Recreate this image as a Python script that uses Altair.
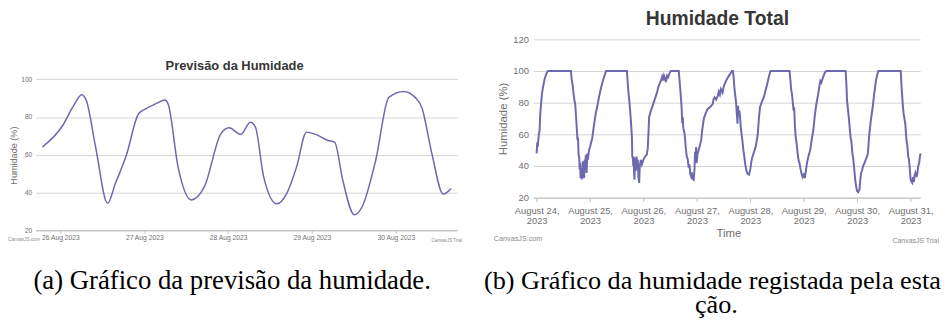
import altair as alt
import pandas as pd

LINE = "#6c69ae"
GRID = "#d4d4d4"
LABEL = "#6f6f6f"
TITLE = "#363636"
MARK = "#8a8a8a"
SANS = "Liberation Sans"
SERIF = "'Liberation Serif', 'DejaVu Serif', 'Times New Roman', serif"

# ---------- (a) forecast ----------
fc_day = [-0.216, 0.027, 0.145, 0.255, 0.31, 0.42, 0.562, 0.656, 0.786, 0.93,
          1.01, 1.147, 1.246, 1.285, 1.403, 1.56, 1.717, 1.913, 2.012, 2.149,
          2.267, 2.326, 2.424, 2.581, 2.70, 2.817, 2.935, 3.073, 3.19, 3.27,
          3.367, 3.505, 3.6, 3.76, 3.917, 4.094, 4.23, 4.31, 4.43, 4.565, 4.66]
fc_hum = [64.1, 75.5, 85.1, 91.8, 88.6, 64.0, 34.3, 44.9, 59.7, 81.6,
          84.2, 87.2, 89.0, 86.9, 53.6, 36.1, 43.1, 71.1, 74.3, 70.8,
          77.2, 74.6, 48.3, 34.0, 39.6, 53.6, 72.0, 70.2, 67.6, 66.7,
          46.6, 28.2, 32.6, 57.1, 90.4, 93.5, 90.4, 85.1, 60.6, 39.2, 42.2]
fc_ticks = [0, 1, 2, 3, 4]
fc_tick_labels = ["26 Aug 2023", "27 Aug 2023", "28 Aug 2023", "29 Aug 2023", "30 Aug 2023"]
fc_y_ticks = [20, 40, 60, 80, 100]

# ---------- (b) station ----------
st_day = [0, 0.012, 0.02, 0.043, 0.055, 0.068, 0.085, 0.099, 0.115, 0.136, 0.15, 0.167, 0.19, 0.21,
          0.642, 0.655, 0.673, 0.69, 0.705, 0.722, 0.74, 0.765, 0.775, 0.785, 0.796, 0.806, 0.815,
          0.822, 0.835, 0.845, 0.855, 0.865, 0.875, 0.889, 0.9, 0.91, 0.92, 0.935, 0.95, 0.96, 0.98,
          1.0, 1.02, 1.04, 1.07, 1.105, 1.137, 1.17, 1.21, 1.25, 1.29, 1.30,
          1.69, 1.70, 1.715, 1.722, 1.735, 1.75, 1.765, 1.784, 1.79, 1.80, 1.81, 1.815, 1.825, 1.832,
          1.84, 1.85, 1.86, 1.87, 1.88, 1.893, 1.905, 1.92, 1.93, 1.95, 1.97, 2.0, 2.03, 2.06, 2.08,
          2.095, 2.105, 2.13, 2.16, 2.2, 2.25, 2.28, 2.309, 2.33, 2.35, 2.37, 2.385, 2.40, 2.42, 2.44,
          2.46, 2.48, 2.494, 2.51,
          2.66, 2.675, 2.69, 2.70, 2.715, 2.725, 2.735, 2.745, 2.77, 2.79, 2.81, 2.83, 2.845, 2.86,
          2.875, 2.89, 2.905, 2.92, 2.94, 2.955, 2.965, 2.975, 2.985, 2.995, 3.01, 3.03, 3.05, 3.08,
          3.1, 3.13, 3.16, 3.2, 3.24, 3.296, 3.31, 3.33, 3.36, 3.389, 3.41, 3.43, 3.45, 3.48, 3.5,
          3.543, 3.58, 3.62, 3.655, 3.675,
          3.69, 3.70, 3.715, 3.73, 3.745, 3.76, 3.77, 3.78, 3.795, 3.81, 3.82, 3.85, 3.87, 3.895,
          3.91, 3.93, 3.95, 3.975, 4.0, 4.02, 4.04, 4.07, 4.1, 4.12, 4.14, 4.16, 4.18, 4.21, 4.25,
          4.28, 4.315, 4.345, 4.377,
          4.735, 4.75, 4.765, 4.78, 4.795, 4.81, 4.82, 4.835, 4.85, 4.87, 4.885, 4.9, 4.92, 4.94,
          4.96, 4.98, 5.0, 5.02, 5.04, 5.06, 5.086, 5.12, 5.148, 5.18, 5.21, 5.24, 5.27, 5.30, 5.31,
          5.33, 5.36, 5.395, 5.42,
          5.784, 5.8, 5.81, 5.82, 5.83, 5.85, 5.876, 5.89, 5.91, 5.925, 5.94, 5.95, 5.963, 5.98, 6.0,
          6.02, 6.043, 6.06, 6.074, 6.09, 6.11, 6.136, 6.16, 6.185, 6.2, 6.215, 6.228, 6.26, 6.29,
          6.32, 6.35, 6.37, 6.395,
          6.815, 6.83, 6.84, 6.855, 6.87, 6.9, 6.92, 6.94, 6.955, 6.97, 6.985, 7.0, 7.015, 7.03,
          7.045, 7.06, 7.075, 7.09, 7.11, 7.13, 7.14, 7.16, 7.175, 7.185]
st_hum = [48, 55, 52, 60.5, 62, 72.9, 80, 85.4, 89, 92.6, 95, 96.8, 99, 100,
          100, 95, 91.6, 86, 82, 79, 70, 56.3, 58, 47, 45.9, 38, 42,
          32.4, 38.7, 31.5, 36, 43, 34, 32.4, 44, 38, 47, 35.6, 48, 44, 50,
          52, 55, 57.4, 65, 72.9, 78, 84, 90, 95, 99, 100,
          100, 95, 88, 85.4, 81, 75, 68, 58, 46, 45, 40, 46, 35, 31.4,
          45, 40, 37, 46, 39.7, 44, 33, 29.3, 40, 43.9, 41, 44, 45.9, 47, 51.1,
          62, 70.8, 74, 77, 81, 86, 90, 92.6, 94, 96.5, 94, 97, 95.7, 93, 97,
          96, 98, 99, 100,
          100, 94, 88, 83.3, 76, 67, 70.8, 64, 60.5, 52, 46, 43.9, 39, 41,
          35, 33.5, 36, 32, 31.4, 38, 49, 43, 52, 42, 47, 50, 52.2, 56.3,
          63, 70, 72.9, 76, 77, 79.1, 82, 83.3, 82, 84.3, 87, 85, 88.5, 86.4, 90,
          93.7, 96, 98, 100, 100,
          95, 90, 85, 81.2, 74, 66.7, 78, 72, 75, 70, 64.6, 56.3, 50, 43.9,
          40, 36.6, 35, 34.5, 38, 43, 45.9, 49, 52.2, 56, 60.5, 70, 77.1, 80, 83.3,
          87, 91.6, 96, 100,
          100, 94, 88, 85.4, 80, 75, 77.1, 65, 58, 53, 48, 44, 41.8, 38,
          35, 33, 34.5, 32.4, 37, 42, 45.9, 50, 56.3, 63, 72.9, 80, 85.4, 92, 93.7,
          92.6, 96, 99, 100,
          100, 90, 81.2, 78, 75, 68, 58, 56, 48, 45, 40, 36, 31.4, 27, 24.1,
          23.5, 25.2, 32, 35.6, 37, 40, 41.8, 44, 46, 48, 55, 60.5, 70, 77.1,
          86, 93.7, 97, 100,
          100, 90, 85.4, 78, 72.9, 66.7, 57, 52.2, 46, 43.9, 38, 31.4, 30, 29.3,
          33, 30, 34, 35.6, 33, 36, 39.7, 42, 46, 48]
st_ticks = [0, 1, 2, 3, 4, 5, 6, 7]
st_tick_labels = [["August 24,", "2023"], ["August 25,", "2023"], ["August 26,", "2023"],
                  ["August 27,", "2023"], ["August 28,", "2023"], ["August 29,", "2023"],
                  ["August 30,", "2023"], ["August 31,", "2023"]]
st_y_ticks = [20, 40, 60, 80, 100, 120]

title_a = "Previsão da Humidade"
title_b = "Humidade Total"
y_title = "Humidade (%)"
x_title_b = "Time"
credit = "CanvasJS.com"
trial = "CanvasJS Trial"
caption_a = "(a) Gráfico da previsão da humidade."
caption_b1 = "(b) Gráfico da humidade registada pela esta"
caption_b2 = "ção."


def txt(s, x, y, size, color, weight="normal", font=SANS, align="left", baseline="middle"):
    return alt.Chart(pd.DataFrame({"t": [s]})).mark_text(
        fontSize=size, color=color, fontWeight=weight, font=font,
        align=align, baseline=baseline
    ).encode(text="t:N", x=alt.value(x), y=alt.value(y))


def arr_expr(items):
    def one(v):
        if isinstance(v, list):
            return "[" + ",".join("'" + s + "'" for s in v) + "]"
        return "'" + v + "'"
    return "[" + ",".join(one(v) for v in items) + "][datum.value]"


fc_df = pd.DataFrame({"day": fc_day, "hum": fc_hum})
st_df = pd.DataFrame({"day": st_day, "hum": st_hum})

left_line = alt.Chart(fc_df).mark_line(color=LINE, strokeWidth=1.5, interpolate="monotone").encode(
    x=alt.X("day:Q", scale=alt.Scale(domain=[-0.295, 4.732], nice=False, zero=False),
            axis=alt.Axis(values=fc_ticks, labelExpr=arr_expr(fc_tick_labels), title=None,
                          grid=False, tickSize=3, tickColor="#bdbdbd", domainColor="#bdbdbd",
                          labelFontSize=6.8, labelColor=LABEL, labelPadding=1, labelFont=SANS,
                          labelFlush=False, labelOverlap=False)),
    y=alt.Y("hum:Q", scale=alt.Scale(domain=[20, 121.15], nice=False, zero=False),
            axis=alt.Axis(values=fc_y_ticks, title=y_title, grid=True, gridColor=GRID,
                          ticks=False, domain=False, labelFontSize=6.7, labelColor=LABEL,
                          labelPadding=4, labelFont=SANS, titleX=-22, titleY=117,
                          titleFontSize=9.2, titleFontWeight="normal", titleColor=LABEL,
                          titleFont=SANS, titleAngle=270, titleBaseline="middle",
                          titleAlign="center")),
)

left = alt.layer(
    left_line,
    txt(title_a, 201, 27, 13, TITLE, weight="bold", align="center"),
    txt(credit, -28, 203, 4.8, MARK),
    txt(trial, 400, 204, 4.6, MARK),
    txt(caption_a, 198.5, 252, 27, "#000000", font=SERIF, align="center", baseline="alphabetic"),
).properties(width=426, height=193)

right_line = alt.Chart(st_df).mark_line(color=LINE, strokeWidth=2).encode(
    x=alt.X("day:Q", scale=alt.Scale(domain=[-0.061, 7.18], nice=False, zero=False),
            axis=alt.Axis(values=st_ticks, labelExpr=arr_expr(st_tick_labels), title=x_title_b,
                          grid=False, tickSize=4, tickColor="#bdbdbd", domainColor="#bdbdbd",
                          labelFontSize=9.5, labelLineHeight=10.5, labelColor=LABEL,
                          labelPadding=4, labelFont=SANS, labelFlush=False, labelOverlap=False,
                          titleX=197, titleY=36, titleBaseline="middle", titleFontSize=11.5,
                          titleFontWeight="normal", titleColor=LABEL, titleFont=SANS)),
    y=alt.Y("hum:Q", scale=alt.Scale(domain=[20, 120], nice=False, zero=False),
            axis=alt.Axis(values=st_y_ticks, title=y_title, grid=True, gridColor=GRID,
                          ticks=False, domain=False, labelFontSize=9.5, labelColor=LABEL,
                          labelPadding=5, labelFont=SANS, titleX=-30, titleY=80,
                          titleFontSize=11.5, titleFontWeight="normal", titleColor=LABEL,
                          titleFont=SANS, titleAngle=270, titleBaseline="middle",
                          titleAlign="center")),
)

right = alt.layer(
    right_line,
    txt(title_b, 186, -20, 19.5, TITLE, weight="bold", align="center"),
    txt(credit, -40, 202, 7.3, MARK),
    txt(trial, 363, 204, 7, MARK),
    txt(caption_b1, -50, 252, 26.5, "#000000", font=SERIF, baseline="alphabetic"),
    txt(caption_b2, 185, 277, 26.5, "#000000", font=SERIF, align="center", baseline="alphabetic"),
).properties(width=391, height=160)

chart = alt.hconcat(left, right, spacing=22).properties(
    padding={"left": 0, "top": 0, "right": 0, "bottom": 0}
).configure_view(stroke=None)

chart.save("out.html", embed_options={"renderer": "svg", "actions": False})
